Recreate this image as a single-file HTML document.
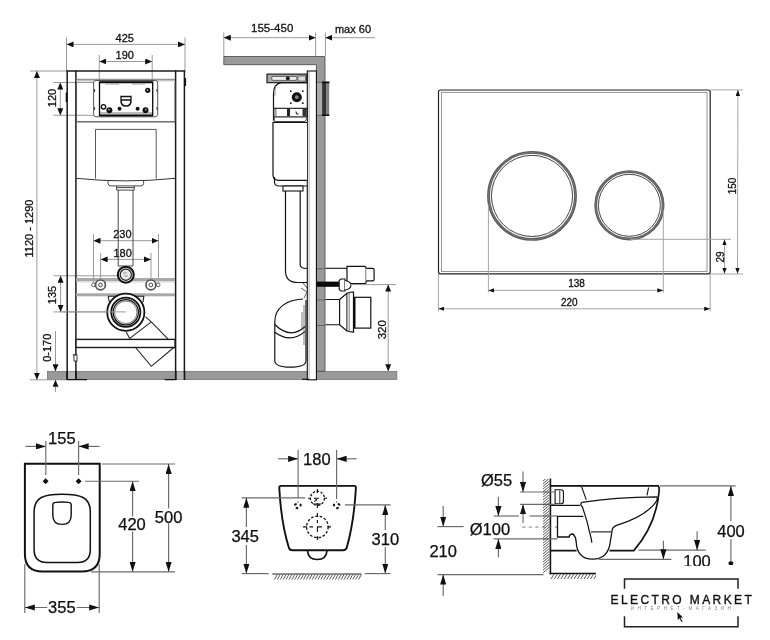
<!DOCTYPE html>
<html><head><meta charset="utf-8">
<style>
html,body{margin:0;padding:0;background:#fff;width:770px;height:640px;overflow:hidden}
svg{display:block;will-change:transform}
text{font-family:"Liberation Sans",sans-serif;fill:#111}
.d{stroke:#999;stroke-width:1;fill:none}
.dd{stroke:#6a6a6a;stroke-width:1.15;fill:none}
.k{stroke:#222;fill:none}
.t{font-size:11px;stroke:#111;stroke-width:0.3px}
.b{font-size:16.5px;stroke:#000;stroke-width:0.25px}
</style></head><body>
<svg width="770" height="640" viewBox="0 0 770 640">
<defs>
<marker id="aT" viewBox="0 0 7 6" refX="7" refY="3" markerWidth="7" markerHeight="6" orient="auto-start-reverse" markerUnits="userSpaceOnUse"><path d="M0,0 L7,3 L0,6z" fill="#111"/></marker>
<marker id="aP" viewBox="0 0 6 4.4" refX="6" refY="2.2" markerWidth="6" markerHeight="4.4" orient="auto-start-reverse" markerUnits="userSpaceOnUse"><path d="M0,0 L6,2.2 L0,4.4z" fill="#111"/></marker>
<marker id="aB" viewBox="0 0 10 6.2" refX="10" refY="3.1" markerWidth="10" markerHeight="6.2" orient="auto-start-reverse" markerUnits="userSpaceOnUse"><path d="M0,0 L10,3.1 L0,6.2z" fill="#111"/></marker>
</defs>
<g id="front">
<!-- floor band (shared) -->
<rect x="47.3" y="371.3" width="349.6" height="8.3" fill="#999" stroke="#666" stroke-width="0.6"/>
<!-- dims -->
<line class="d" x1="66.5" y1="37.5" x2="66.5" y2="70.5"/>
<line class="d" x1="185" y1="37.5" x2="185" y2="70.5"/>
<line class="d" x1="66.5" y1="44.4" x2="185" y2="44.4" marker-start="url(#aT)" marker-end="url(#aT)"/>
<text class="t" x="124.7" y="42.2" text-anchor="middle">425</text>
<line class="d" x1="99.3" y1="55" x2="99.3" y2="82"/>
<line class="d" x1="152.2" y1="55" x2="152.2" y2="82"/>
<line class="d" x1="99.3" y1="61.5" x2="152.2" y2="61.5" marker-start="url(#aT)" marker-end="url(#aT)"/>
<text class="t" x="124.7" y="59.4" text-anchor="middle">190</text>

<line class="d" x1="30" y1="71" x2="66" y2="71"/>
<line class="d" x1="30" y1="379.8" x2="66" y2="379.8"/>
<line class="d" x1="36.9" y1="71" x2="36.9" y2="379.8" marker-start="url(#aT)" marker-end="url(#aT)"/>
<text class="t" transform="translate(33.4,228.5) rotate(-90)" text-anchor="middle" style="font-size:11px">1120 - 1290</text>

<line class="d" x1="53.3" y1="82.5" x2="95" y2="82.5"/>
<line class="d" x1="53.3" y1="115.3" x2="95" y2="115.3"/>
<line class="d" x1="60.3" y1="82.5" x2="60.3" y2="115.3" marker-start="url(#aT)" marker-end="url(#aT)"/>
<text class="t" transform="translate(55.5,98) rotate(-90)" text-anchor="middle">120</text>

<line class="d" x1="53.5" y1="275.8" x2="120" y2="275.8"/>
<line class="d" x1="53.5" y1="311.9" x2="126" y2="311.9"/>
<line class="d" x1="60.6" y1="275.8" x2="60.6" y2="311.9" marker-start="url(#aT)" marker-end="url(#aT)"/>
<text class="t" transform="translate(55.6,295) rotate(-90)" text-anchor="middle">135</text>

<line class="d" x1="55.5" y1="331" x2="55.5" y2="371.3" marker-end="url(#aT)"/>
<line class="d" x1="55.5" y1="392" x2="55.5" y2="379.8" marker-end="url(#aT)"/>
<text class="t" transform="translate(50.7,347.8) rotate(-90)" text-anchor="middle">0-170</text>

<line class="d" x1="93.5" y1="234" x2="93.5" y2="283"/>
<line class="d" x1="158.5" y1="234" x2="158.5" y2="283"/>
<line class="d" x1="93.5" y1="240.7" x2="158.5" y2="240.7" marker-start="url(#aT)" marker-end="url(#aT)"/>
<text class="t" x="122.4" y="238" text-anchor="middle">230</text>
<line class="d" x1="100.6" y1="253" x2="100.6" y2="284"/>
<line class="d" x1="151" y1="253" x2="151" y2="284"/>
<line class="d" x1="100.6" y1="259.4" x2="151" y2="259.4" marker-start="url(#aT)" marker-end="url(#aT)"/>
<text class="t" x="122.6" y="257.3" text-anchor="middle">180</text>

<!-- frame verticals -->
<g stroke="#1a1a1a" stroke-width="1.5" fill="none">
<line x1="67.2" y1="70.5" x2="67.2" y2="379.8"/>
<line x1="75.9" y1="70.5" x2="75.9" y2="379.8"/>
<line x1="175.6" y1="70.5" x2="175.6" y2="379.8"/>
<line x1="184.4" y1="70.5" x2="184.4" y2="379.8"/>
<line x1="66.5" y1="71" x2="185.3" y2="71"/>
</g>
<line x1="76" y1="79.3" x2="175" y2="79.3" stroke="#777" stroke-width="1"/>
<line x1="76" y1="80.8" x2="175" y2="80.8" stroke="#aaa" stroke-width="1"/>
<path d="M66.4,92.5 V102" stroke="#111" stroke-width="1.4"/>
<path d="M185.4,78 V86" stroke="#111" stroke-width="1.4"/>
<!-- shelf -->
<path d="M76.5,82 V121.8 H175 V82" fill="none" stroke="#555" stroke-width="0.9"/>
<line x1="76" y1="121.8" x2="175" y2="121.8" stroke="#666" stroke-width="1"/>
<rect x="93.6" y="80.5" width="64.1" height="36.3" rx="2.5" fill="#fff" stroke="#555" stroke-width="1"/>
<rect x="99.5" y="82" width="53.2" height="33.5" fill="#fff" stroke="#0a0a0a" stroke-width="1.3"/>
<line x1="99.5" y1="82.3" x2="152.7" y2="82.3" stroke="#0a0a0a" stroke-width="1.8"/>
<line x1="99.5" y1="115.3" x2="152.7" y2="115.3" stroke="#0a0a0a" stroke-width="1.8"/>
<line x1="100" y1="113" x2="152" y2="113" stroke="#777" stroke-width="1"/>
<path d="M106,84 H119 M132,84 H145" stroke="#999" stroke-width="1.2"/>
<circle cx="147.7" cy="90.3" r="2.6" fill="#111"/><circle cx="147.4" cy="90" r="0.8" fill="#fff"/>
<circle cx="103.5" cy="106.8" r="2.2" fill="#fff" stroke="#111" stroke-width="1.4"/>
<circle cx="109.4" cy="110.2" r="3" fill="#111"/><circle cx="109" cy="109.6" r="0.9" fill="#aaa"/>
<circle cx="119.5" cy="108.8" r="2" fill="#111"/>
<circle cx="137.6" cy="108.8" r="2" fill="#111"/>
<circle cx="145.5" cy="110.2" r="3" fill="#111"/><circle cx="145.9" cy="109.6" r="0.9" fill="#aaa"/>
<path d="M94.6,89 V92 M94.6,107 V110 M157,89 V92 M157,107 V110" stroke="#333" stroke-width="1"/>
<path d="M121,96.5 H131 V100 H121 Z" fill="#fff" stroke="#111" stroke-width="1.3"/>
<path d="M121,100.5 Q121,106 126,106 Q131,106 131,100.5" fill="none" stroke="#111" stroke-width="1.6"/>
<!-- tank -->
<path d="M76,178.3 Q125.5,183.5 175,178.3" fill="none" stroke="#333" stroke-width="1"/>
<path d="M95.5,178.6 V129.4 H156.2 V178.6" fill="none" stroke="#444" stroke-width="0.9"/>
<path d="M108.1,180.8 V183.5 Q108.1,185.9 111,185.9 H140.6 Q143.6,185.9 143.6,183.5 V180.8" fill="none" stroke="#333" stroke-width="0.9"/>
<path d="M116.6,186 V190.1 H134.3 V186 M116.6,187.6 H134.3" fill="none" stroke="#333" stroke-width="0.9"/>
<line x1="118.2" y1="190" x2="118.2" y2="266" stroke="#333" stroke-width="0.9"/>
<line x1="133" y1="190" x2="133" y2="266" stroke="#333" stroke-width="0.9"/>
<!-- crossbars -->
<rect x="76" y="278" width="99" height="3.2" fill="#a8a8a8"/>
<rect x="76" y="293.3" width="99" height="3" fill="#a8a8a8"/>
<line x1="76" y1="282" x2="175" y2="282" stroke="#bbb" stroke-width="0.6"/>
<!-- pipe ring -->
<path d="M118.2,266 H133" stroke="#333" stroke-width="0.9"/>
<circle cx="125.8" cy="274.7" r="8" fill="#ddd" stroke="#111" stroke-width="2"/>
<circle cx="125.8" cy="274.7" r="5.6" fill="#e8e8e8" stroke="#222" stroke-width="1.2"/>
<path d="M123,273 H127 M124,276 H128" stroke="#999" stroke-width="1"/>
<!-- bolts -->
<circle cx="93.5" cy="284.9" r="1.8" fill="#fff" stroke="#555" stroke-width="0.9"/>
<circle cx="158.2" cy="284.9" r="1.8" fill="#fff" stroke="#555" stroke-width="0.9"/>
<circle cx="100.5" cy="284.9" r="4.9" fill="#fff" stroke="#555" stroke-width="1.7"/>
<circle cx="100.5" cy="284.9" r="1.9" fill="#fff" stroke="#333" stroke-width="0.9"/>
<circle cx="150.9" cy="284.9" r="4.9" fill="#fff" stroke="#555" stroke-width="1.7"/>
<circle cx="150.9" cy="284.9" r="1.9" fill="#fff" stroke="#333" stroke-width="0.9"/>
<!-- drain -->
<path d="M108.1,296.3 H143.8 L143.1,302 M108.1,296.3 L109.4,302" fill="none" stroke="#222" stroke-width="1.1"/>
<path d="M126.2,331.9 L130,339 M129.4,338.6 L151.3,321.9 L168.1,339.2 M145.6,316.9 L151.3,321.9" fill="none" stroke="#222" stroke-width="1.1"/>
<path d="M135.6,347.5 L151.3,366.3 L173.8,347.5" fill="none" stroke="#222" stroke-width="1.1"/>
<circle cx="125.8" cy="312.3" r="18.6" fill="#fff" stroke="#111" stroke-width="1.8"/>
<circle cx="125.8" cy="312.3" r="14.6" fill="none" stroke="#111" stroke-width="1.8"/>
<circle cx="125.8" cy="312.3" r="12.6" fill="none" stroke="#111" stroke-width="1.3"/>
<circle cx="125.8" cy="312.3" r="11.2" fill="none" stroke="#555" stroke-width="0.8"/>
<line class="d" x1="60.6" y1="311.9" x2="126" y2="311.9"/>
<rect x="76" y="339.4" width="99" height="8.1" fill="#fff" stroke="#1a1a1a" stroke-width="1.4"/>
<path d="M73,355 H76" stroke="#111" stroke-width="1"/>
<rect x="74" y="355" width="3" height="6" fill="#fff" stroke="#111" stroke-width="0.8"/>
<!-- feet -->
<rect x="67.5" y="371.6" width="8" height="7.8" fill="#b5b5b5"/><rect x="175.5" y="371.6" width="8.5" height="7.8" fill="#b5b5b5"/>
<path d="M67.2,371 V379.8 M75.9,371 V379.8 M175.9,371 V379.8 M184.4,371 V379.8" stroke="#111" stroke-width="1.5"/>
<path d="M66.5,379.6 H87 M164.6,379.6 H176.5" stroke="#111" stroke-width="1.3"/>
</g>
<g id="side">
<line class="d" x1="223.8" y1="32.5" x2="223.8" y2="56"/>
<line class="d" x1="315.6" y1="32.5" x2="315.6" y2="56"/>
<line class="d" x1="325.4" y1="32.5" x2="325.4" y2="56"/>
<line class="d" x1="223.8" y1="37.7" x2="315.6" y2="37.7" marker-start="url(#aT)" marker-end="url(#aT)"/>
<line class="d" x1="375" y1="37.7" x2="325.4" y2="37.7" marker-end="url(#aT)"/>
<text class="t" x="272.2" y="32.2" text-anchor="middle" style="font-size:11.5px">155-450</text>
<text class="t" x="353" y="32.5" text-anchor="middle">max 60</text>
<!-- ceiling + wall -->
<path d="M223.8,56.5 H325 V371.3 H316.4 V64.7 H223.8 Z" fill="#9a9a9a" stroke="#444" stroke-width="0.8"/>
<!-- horizontal lines through wall -->
<path d="M316.4,268.8 H325 M316.4,300 H325 M316.4,325.5 H325" stroke="#555" stroke-width="0.8"/>
<!-- flush plate -->
<rect x="316.8" y="81.7" width="5.4" height="34.1" fill="#aaa"/>
<path d="M316.8,82.2 H322.2 M316.8,115.3 H322.2" stroke="#666" stroke-width="1"/>
<rect x="322.2" y="82.4" width="3.9" height="32.8" fill="#333"/>
<rect x="326.1" y="82.4" width="3.1" height="32.8" fill="#808080"/>
<path d="M322,82.4 H329.4 M322,115.2 H329.4" stroke="#0a0a0a" stroke-width="1.6"/>
<!-- frame panel -->
<rect x="307.3" y="71" width="9.1" height="308.8" fill="#fff" stroke="#111" stroke-width="1.1"/>
<line x1="309.1" y1="71.5" x2="309.1" y2="379.5" stroke="#888" stroke-width="0.7"/>
<!-- bracket -->
<rect x="267" y="74.1" width="39.8" height="8.6" fill="#a8a8a8" stroke="#111" stroke-width="1.1"/>
<rect x="271.5" y="76.4" width="25.5" height="4" rx="2" fill="#eee" stroke="#333" stroke-width="0.7"/>
<rect x="298" y="76" width="7.5" height="5" fill="#ddd" stroke="#333" stroke-width="0.6"/>
<circle cx="287.8" cy="78.3" r="1.9" fill="#111"/>
<!-- upper tank -->
<path d="M307,82.7 H281 Q273.5,84 273.5,94 V120.5" fill="none" stroke="#111" stroke-width="1.2"/>
<path d="M275.5,86 Q275,90 275,96" fill="none" stroke="#777" stroke-width="0.7"/>
<circle cx="296.8" cy="97.2" r="5" fill="#111"/>
<circle cx="296.8" cy="97.2" r="1.9" fill="#888"/>
<g fill="#111"><circle cx="290.8" cy="91.2" r="0.9"/><circle cx="302.8" cy="91.2" r="0.9"/><circle cx="290.8" cy="103.2" r="0.9"/><circle cx="302.8" cy="103.2" r="0.9"/></g>
<rect x="273.8" y="108.3" width="33.2" height="8.6" fill="#fff" stroke="#111" stroke-width="1.1"/>
<rect x="274.4" y="109" width="2.2" height="7.2" fill="#999"/>
<rect x="287" y="109" width="3" height="7.2" fill="#222"/>
<rect x="302.5" y="109" width="4" height="7.2" fill="#333"/>
<path d="M296,111.5 L296.5,114 H298.5" stroke="#111" stroke-width="1" fill="none"/>
<path d="M274.2,116.9 V121.5 H305 L307,118" fill="none" stroke="#333" stroke-width="0.9"/>
<!-- tank -->
<path d="M307,122.5 H273 V175 Q273.2,180.3 279,180.3 H307" fill="#fff" stroke="#111" stroke-width="1.2"/>
<path d="M274.5,177 V182.5 Q275,186 279,186 H307" fill="none" stroke="#111" stroke-width="1.2"/>
<rect x="283" y="186" width="20" height="5" fill="#fff" stroke="#111" stroke-width="1.1"/>
<!-- pipe J -->
<path d="M285.5,191 V271.7 Q286,282.5 298,282.5 H307 M300.2,191 V265 Q300.5,268.5 307,268.5" fill="none" stroke="#111" stroke-width="1.2"/>
<path d="M303,283 L307,288 M301,288 L307,292 L304,298" fill="none" stroke="#333" stroke-width="0.8"/>
<!-- inlet -->
<path d="M325.4,268.3 H347" stroke="#111" stroke-width="1.1"/>
<path d="M347,266.3 H364.5 Q366.2,266.5 366.2,268.5 V281.5 Q366.2,283.6 364.5,283.6 H347 Z" fill="#fff" stroke="#111" stroke-width="1.2"/>
<path d="M366.2,268.3 H372.5 Q374.1,268.3 374.1,270 V279.2 Q374.1,280.9 372.5,280.9 H366.2" fill="#fff" stroke="#111" stroke-width="1.2"/>
<rect x="316.8" y="281.6" width="22.3" height="5.2" fill="#0a0a0a"/>
<path d="M339.2,280.5 L341,279 H345 V291 H341 L339.2,289.5 Z" fill="#fff" stroke="#111" stroke-width="1.1"/>
<path d="M345,280.5 Q350.9,281.5 350.9,285.2 Q350.9,289 345,290" fill="#fff" stroke="#111" stroke-width="1.1"/>
<line class="d" x1="350" y1="284.6" x2="396" y2="284.6"/>
<!-- drain outlet -->
<path d="M325.4,299.5 H339.6 M325.4,324.8 H339.6" stroke="#111" stroke-width="1.1"/>
<path d="M339.6,299.5 L346.9,293.3 Q350,292 353.5,292 V332.1 Q350,332.1 346.9,331 L339.6,324.8 Z" fill="#fff" stroke="#111" stroke-width="1.2"/>
<line x1="346.9" y1="293.3" x2="346.9" y2="331" stroke="#111" stroke-width="1"/>
<line x1="349.2" y1="292.5" x2="349.2" y2="331.8" stroke="#555" stroke-width="0.8"/>
<rect x="354.2" y="297.3" width="16.6" height="30.8" fill="#fff" stroke="#111" stroke-width="1.2"/>
<line x1="354.6" y1="297.3" x2="354.6" y2="328.1" stroke="#0a0a0a" stroke-width="1.8"/>
<!-- 320 dim -->
<line class="d" x1="388.2" y1="284.6" x2="388.2" y2="371.3" marker-start="url(#aT)" marker-end="url(#aT)"/>
<text class="t" transform="translate(386.2,329.7) rotate(-90)" text-anchor="middle" style="font-size:11.5px">320</text>
<!-- elbow -->
<path d="M303,299 Q284,300 277,312 Q274.8,316 274.8,322 V361 Q275.5,367.2 290,367.2 Q305.5,367.2 306,361 V300" fill="#fff" stroke="#111" stroke-width="1.2"/>
<path d="M274.8,324.5 Q290.4,340 305.1,326.5" fill="none" stroke="#111" stroke-width="1.2"/>
<path d="M274.8,332.3 Q290.4,344 305.1,331.4" fill="none" stroke="#111" stroke-width="1.2"/>
<path d="M302,312 V330 M304,305 V345" stroke="#444" stroke-width="0.7"/>
<!-- foot -->
<path d="M302,379.3 H309" stroke="#111" stroke-width="1.2"/>
</g>
<g id="plate">
<path d="M440.5,90 H708.2 Q710.2,90 710.2,92 V271.8 Q710.2,273.8 708.2,273.8 H440.5 Q438.5,273.8 438.5,271.8 V92 Q438.5,90 440.5,90 Z" fill="#fff" stroke="#222" stroke-width="1.2"/>
<path d="M441.5,271.5 V92.4 H707 V271.5 H441.5" fill="none" stroke="#777" stroke-width="0.8"/>
<circle cx="532" cy="195.9" r="43.5" fill="none" stroke="#5a5a5a" stroke-width="2.8"/>
<circle cx="532" cy="195.9" r="43.5" fill="none" stroke="#888" stroke-width="0.6"/>
<circle cx="532" cy="195.9" r="40.6" fill="none" stroke="#444" stroke-width="1"/>
<circle cx="629.4" cy="205.3" r="33.7" fill="none" stroke="#5a5a5a" stroke-width="2.8"/>
<circle cx="629.4" cy="205.3" r="33.7" fill="none" stroke="#888" stroke-width="0.6"/>
<circle cx="629.4" cy="205.3" r="31" fill="none" stroke="#444" stroke-width="1"/>
<line class="d" style="stroke:#a5a5a5" x1="488.4" y1="205" x2="488.4" y2="292.7"/>
<line class="d" style="stroke:#a5a5a5" x1="663.3" y1="210" x2="663.3" y2="292.7"/>
<line class="d" style="stroke:#a5a5a5" x1="630" y1="239.3" x2="731" y2="239.3"/>
<line class="d" style="stroke:#a5a5a5" x1="710.5" y1="89.9" x2="743" y2="89.9"/>
<line class="d" style="stroke:#a5a5a5" x1="710.5" y1="274" x2="743" y2="274"/>
<line class="d" style="stroke:#a5a5a5" x1="438.4" y1="274" x2="438.4" y2="311.4"/>
<line class="d" style="stroke:#a5a5a5" x1="710.2" y1="274" x2="710.2" y2="311.4"/>
<line class="d" style="stroke:#a5a5a5" x1="488.4" y1="290.4" x2="663.3" y2="290.4" marker-start="url(#aP)" marker-end="url(#aP)"/>
<line class="d" style="stroke:#a5a5a5" x1="438.4" y1="308.8" x2="710.2" y2="308.8" marker-start="url(#aP)" marker-end="url(#aP)"/>
<text class="t" x="576.6" y="287.2" text-anchor="middle" style="font-size:10px">138</text>
<text class="t" x="569.3" y="305.7" text-anchor="middle" style="font-size:10px">220</text>
<line class="d" style="stroke:#a5a5a5" x1="737.9" y1="89.9" x2="737.5" y2="273.8" marker-start="url(#aP)" marker-end="url(#aP)"/>
<text class="t" transform="translate(735.6,186) rotate(-90)" text-anchor="middle" style="font-size:10px">150</text>
<line class="d" style="stroke:#a5a5a5" x1="724.5" y1="239.3" x2="724.5" y2="273.8" marker-start="url(#aP)" marker-end="url(#aP)"/>
<text class="t" transform="translate(723.6,257) rotate(-90)" text-anchor="middle" style="font-size:10px">29</text>
</g>
<g id="top">
<path d="M24.9,463.8 H99.7 V554 Q99.7,571.5 82,571.5 H42.5 Q24.9,571.5 24.9,554 Z" fill="#fff" stroke="#111" stroke-width="2"/>
<path d="M34.1,549.5 V512 C34.1,497 44,494.2 62.2,494.2 C80.4,494.2 90.3,497 90.3,512 V549.5 Q90.3,562.5 77.5,562.5 H47 Q34.1,562.5 34.1,549.5 Z" fill="none" stroke="#111" stroke-width="1.5"/>
<path d="M52.8,505 Q52.8,502.6 55.5,502.4 Q62,501.7 68.5,502.4 Q71.2,502.6 71.2,505 V515 Q71.2,524.4 62,524.4 Q52.8,524.4 52.8,515 Z" fill="none" stroke="#111" stroke-width="1.4"/>
<line class="dd" x1="45.8" y1="441" x2="45.8" y2="475"/>
<line class="dd" x1="78.6" y1="441" x2="78.6" y2="475"/>
<line class="dd" x1="25.5" y1="446.4" x2="45.8" y2="446.4" marker-end="url(#aB)"/>
<line class="dd" x1="99.6" y1="446.4" x2="78.6" y2="446.4" marker-end="url(#aB)"/>
<text class="b" x="61.8" y="443.6" text-anchor="middle">155</text>
<path d="M45.6,478.2 L48.6,481.2 L45.6,484.2 L42.6,481.2Z M78.6,478.2 L81.6,481.2 L78.6,484.2 L75.6,481.2Z" fill="#111"/>
<line class="dd" x1="85" y1="481.2" x2="139" y2="481.2"/>
<line class="dd" x1="102" y1="464" x2="175" y2="464"/>
<line class="dd" x1="91" y1="571.8" x2="175" y2="571.8"/>
<line class="dd" x1="132.6" y1="571.8" x2="132.6" y2="481.2" marker-start="url(#aB)" marker-end="url(#aB)"/>
<line class="dd" x1="168.6" y1="571.8" x2="168.6" y2="464" marker-start="url(#aB)" marker-end="url(#aB)"/>
<rect x="113" y="516.5" width="39" height="15" fill="#fff"/>
<rect x="149" y="508.5" width="39" height="15" fill="#fff"/>
<text class="b" x="132" y="530" text-anchor="middle">420</text>
<text class="b" x="168.6" y="523" text-anchor="middle">500</text>
<line class="dd" x1="24.8" y1="564" x2="24.8" y2="613"/>
<line class="dd" x1="99.2" y1="564" x2="99.2" y2="613"/>
<line class="dd" x1="24.8" y1="607.5" x2="99.2" y2="607.5" marker-start="url(#aB)" marker-end="url(#aB)"/>
<rect x="47.2" y="600" width="29.4" height="14" fill="#fff"/>
<text class="b" x="61.8" y="612.8" text-anchor="middle">355</text>
</g>
<g id="bowl">
<path d="M281,485.9 H354.5 Q356,485.9 355.9,488 Q354,522 346.8,547.5 Q346,550.3 343,550.3 H292.5 Q289.5,550.3 288.8,547.5 Q281,522 279.3,488 Q279.2,485.9 281,485.9 Z" fill="#fff" stroke="#111" stroke-width="1.9"/>
<path d="M307.5,550.5 Q308,559.5 317.3,559.5 Q326.5,559.5 327,550.5" fill="none" stroke="#111" stroke-width="1.7"/>
<circle cx="317.4" cy="498.3" r="7" fill="none" stroke="#111" stroke-width="1.3" stroke-dasharray="2.4 1.6"/>
<path d="M317.4,489 V493 M317.4,503 V508 M308,498.3 H311 M324,498.3 H327 M314.5,498.3 H319" stroke="#111" stroke-width="1.1"/>
<path d="M314,498 L317,500 L314,501.5 M313,504 H321" stroke="#111" stroke-width="1" fill="none"/>
<circle cx="317.4" cy="526.9" r="10.8" fill="none" stroke="#111" stroke-width="1.3" stroke-dasharray="2.6 1.8"/>
<path d="M317.4,513 V517 M317.4,520 V523 M317.4,527 V532 M317.4,536 V540 M303,526.9 H307 M309.5,526.9 H313 M317,526.9 H322 M327.5,526.9 H331" stroke="#111" stroke-width="1.1"/>
<g fill="#111"><ellipse cx="295.5" cy="504.4" rx="1.5" ry="1.1" transform="rotate(-30 295.5 504.4)"/><ellipse cx="300.6" cy="504.9" rx="1.1" ry="1.5"/><ellipse cx="297" cy="508" rx="1.5" ry="1.1" transform="rotate(30 297 508)"/>
<ellipse cx="334" cy="504.9" rx="1.1" ry="1.5"/><ellipse cx="339" cy="504.4" rx="1.5" ry="1.1" transform="rotate(30 339 504.4)"/><ellipse cx="337.5" cy="508" rx="1.5" ry="1.1" transform="rotate(-30 337.5 508)"/></g>
<path d="M298.1,501 V503 M336.6,501 V503" stroke="#999" stroke-width="1.2"/>
<line class="dd" x1="298.1" y1="450" x2="298.1" y2="498"/>
<line class="dd" x1="336.6" y1="450" x2="336.6" y2="499"/>
<line class="dd" x1="278" y1="458.8" x2="298.1" y2="458.8" marker-end="url(#aB)"/>
<line class="dd" x1="356.6" y1="458.8" x2="336.6" y2="458.8" marker-end="url(#aB)"/>
<text class="b" x="316.8" y="464.8" text-anchor="middle">180</text>
<line class="dd" x1="241.7" y1="497.8" x2="305.2" y2="497.8"/>
<line class="dd" x1="345" y1="504.9" x2="390.6" y2="504.9"/>
<line class="dd" x1="246.4" y1="573.6" x2="246.4" y2="497.8" marker-start="url(#aB)" marker-end="url(#aB)"/>
<line class="dd" x1="385.3" y1="573.6" x2="385.3" y2="504.9" marker-start="url(#aB)" marker-end="url(#aB)"/>
<rect x="227" y="527" width="38" height="18" fill="#fff"/>
<rect x="366" y="530" width="38" height="17" fill="#fff"/>
<text class="b" x="245.2" y="541.6" text-anchor="middle">345</text>
<text class="b" x="385.3" y="544.6" text-anchor="middle">310</text>
<line class="dd" x1="241.7" y1="573.6" x2="268.7" y2="573.6"/>
<line class="dd" x1="364.8" y1="573.6" x2="390.6" y2="573.6"/>
<line x1="272.2" y1="574" x2="361.3" y2="574" stroke="#222" stroke-width="1.2"/>
</g>
<g id="sidebowl">
<line x1="550.4" y1="478.5" x2="550.4" y2="574.2" stroke="#111" stroke-width="1.6"/>
<line x1="549.6" y1="573.5" x2="596" y2="573.5" stroke="#111" stroke-width="1.6"/>
<!-- bowl outline -->
<path d="M550.4,485.9 H658 Q659.5,486.5 659,492 Q656,525 633.8,550.6 H609.5 M576.5,550.6 H550.4" fill="none" stroke="#111" stroke-width="1.7"/>
<path d="M581.6,486.7 L586.3,499.9 M648.6,487.5 L647,495.3" fill="none" stroke="#111" stroke-width="1.1"/>
<path d="M582,502.3 Q615,497 656.4,496.8 Q657.5,497 657,500" fill="none" stroke="#111" stroke-width="1.2"/>
<path d="M582,502.3 Q579.5,504 582.4,507 Q587.5,522 589,530 Q591.8,540 591.8,542.8" fill="none" stroke="#111" stroke-width="1.2"/>
<path d="M658,499 Q648,516 615.9,525.6 Q612,527.5 612,531 Q611,538 610.5,540 Q609,559.2 592.5,559.2 Q577,559 576.2,542 Q576,537 573,534 Q569.2,534 569.2,537 H557.5 V516.3 H583.2" fill="none" stroke="#111" stroke-width="1.3"/>
<line x1="591" y1="531.9" x2="611.2" y2="531.9" stroke="#111" stroke-width="1.1"/>
<line x1="550.4" y1="505.4" x2="580.1" y2="505.4" stroke="#111" stroke-width="1.2"/>
<path d="M555.1,489.8 H561 Q563.4,489.8 563.4,492 V501.5 Q563.4,503.8 561,503.8 H555.1 Z" fill="#fff" stroke="#111" stroke-width="1.1"/>
<line x1="559.8" y1="490.5" x2="559.8" y2="503" stroke="#111" stroke-width="0.9"/>
<!-- dims -->
<line class="dd" x1="520.1" y1="492" x2="555" y2="492"/>
<line class="dd" x1="520.1" y1="504.3" x2="555" y2="504.3"/>
<line class="dd" x1="523" y1="471.4" x2="523" y2="492" marker-end="url(#aB)"/>
<line class="dd" x1="523" y1="523" x2="523" y2="504.3" marker-end="url(#aB)"/>
<text class="b" x="496.6" y="485.5" text-anchor="middle">Ø55</text>
<line class="dd" x1="493.7" y1="516" x2="518.9" y2="516"/>
<line class="dd" x1="529.5" y1="516" x2="557.5" y2="516"/>
<line x1="522.4" y1="527.1" x2="557" y2="527.1" stroke="#777" stroke-width="1" stroke-dasharray="3 3.5"/>
<line class="dd" x1="493.7" y1="538.9" x2="557.5" y2="538.9"/>
<line class="dd" x1="498.4" y1="496.7" x2="498.4" y2="516" marker-end="url(#aB)"/>
<line class="dd" x1="498.4" y1="557.3" x2="498.4" y2="538.9" marker-end="url(#aB)"/>
<text class="b" x="489.9" y="535.3" text-anchor="middle">Ø100</text>
<line class="dd" x1="437.5" y1="526.6" x2="463.6" y2="526.6"/>
<line class="dd" x1="437.5" y1="574.6" x2="543.5" y2="574.6"/>
<line class="dd" x1="443.2" y1="506" x2="443.2" y2="526.6" marker-end="url(#aB)"/>
<line class="dd" x1="443.2" y1="596" x2="443.2" y2="574.6" marker-end="url(#aB)"/>
<text class="b" x="443.2" y="556.8" text-anchor="middle">210</text>
<!-- 400 -->
<line class="dd" x1="660" y1="485.9" x2="735.7" y2="485.9"/>
<line class="dd" x1="730.9" y1="564.5" x2="730.9" y2="485.9" marker-end="url(#aB)"/>
<rect x="714" y="521" width="34" height="18" fill="#fff"/>
<text class="b" x="731" y="536.6" text-anchor="middle">400</text>
<rect x="728.6" y="561.5" width="4.6" height="3.5" rx="1" fill="#111"/>
<!-- 100 -->
<line class="dd" x1="598.6" y1="559.3" x2="671.4" y2="559.3"/>
<line class="dd" x1="638.6" y1="550.1" x2="705.7" y2="550.1"/>
<line class="dd" x1="663.4" y1="540.7" x2="663.4" y2="559.3" marker-end="url(#aB)"/>
<line class="dd" x1="697.1" y1="531.3" x2="697.1" y2="550.1" marker-end="url(#aB)"/>
<svg x="670" y="550" width="60" height="15.3" overflow="hidden"><text class="b" x="27" y="16.5" text-anchor="middle">100</text></svg>
</g>
<g id="logo">
<path d="M624.5,588.7 V579 H738 V588.7 M624.5,616.3 V626.7 H738 V616.3" fill="none" stroke="#222" stroke-width="1.5"/>
<text x="682.4" y="603.7" text-anchor="middle" style="font-size:12px;letter-spacing:2.4px;stroke:#111;stroke-width:0.35px">ELECTRO MARKET</text>
<text x="682.5" y="609.6" text-anchor="middle" style="font-size:4.6px;letter-spacing:3.5px;fill:#888">ИНТЕРНЕТ-МАГАЗИН</text>
<path d="M677.3,611.9 L677.8,620 L679.5,618.3 L681.5,622 L682.5,621.5 L680.5,617.8 L683,617.5 Z" fill="#111"/>
</g>
<clipPath id="cw"><rect x="542.5" y="479" width="7.2" height="95"/><rect x="550" y="573.5" width="46" height="6"/><rect x="272" y="574" width="90" height="6"/></clipPath>
<g clip-path="url(#cw)"><g stroke="#3a3a3a" stroke-width="0.85"><line x1="543" y1="481.0" x2="549.5" y2="475.5"/><line x1="543" y1="483.7" x2="549.5" y2="478.2"/><line x1="543" y1="486.4" x2="549.5" y2="480.9"/><line x1="543" y1="489.1" x2="549.5" y2="483.6"/><line x1="543" y1="491.8" x2="549.5" y2="486.3"/><line x1="543" y1="494.5" x2="549.5" y2="489.0"/><line x1="543" y1="497.2" x2="549.5" y2="491.7"/><line x1="543" y1="499.9" x2="549.5" y2="494.4"/><line x1="543" y1="502.6" x2="549.5" y2="497.1"/><line x1="543" y1="505.3" x2="549.5" y2="499.8"/><line x1="543" y1="508.0" x2="549.5" y2="502.5"/><line x1="543" y1="510.7" x2="549.5" y2="505.2"/><line x1="543" y1="513.4" x2="549.5" y2="507.9"/><line x1="543" y1="516.1" x2="549.5" y2="510.6"/><line x1="543" y1="518.8" x2="549.5" y2="513.3"/><line x1="543" y1="521.5" x2="549.5" y2="516.0"/><line x1="543" y1="524.2" x2="549.5" y2="518.7"/><line x1="543" y1="526.9" x2="549.5" y2="521.4"/><line x1="543" y1="529.6" x2="549.5" y2="524.1"/><line x1="543" y1="532.3" x2="549.5" y2="526.8"/><line x1="543" y1="535.0" x2="549.5" y2="529.5"/><line x1="543" y1="537.7" x2="549.5" y2="532.2"/><line x1="543" y1="540.4" x2="549.5" y2="534.9"/><line x1="543" y1="543.1" x2="549.5" y2="537.6"/><line x1="543" y1="545.8" x2="549.5" y2="540.3"/><line x1="543" y1="548.5" x2="549.5" y2="543.0"/><line x1="543" y1="551.2" x2="549.5" y2="545.7"/><line x1="543" y1="553.9" x2="549.5" y2="548.4"/><line x1="543" y1="556.6" x2="549.5" y2="551.1"/><line x1="543" y1="559.3" x2="549.5" y2="553.8"/><line x1="543" y1="562.0" x2="549.5" y2="556.5"/><line x1="543" y1="564.7" x2="549.5" y2="559.2"/><line x1="543" y1="567.4" x2="549.5" y2="561.9"/><line x1="543" y1="570.1" x2="549.5" y2="564.6"/><line x1="543" y1="572.8" x2="549.5" y2="567.3"/><line x1="551.0" y1="579" x2="554.0" y2="574"/><line x1="554.3" y1="579" x2="557.3" y2="574"/><line x1="557.6" y1="579" x2="560.6" y2="574"/><line x1="560.9" y1="579" x2="563.9" y2="574"/><line x1="564.2" y1="579" x2="567.2" y2="574"/><line x1="567.5" y1="579" x2="570.5" y2="574"/><line x1="570.8" y1="579" x2="573.8" y2="574"/><line x1="574.1" y1="579" x2="577.1" y2="574"/><line x1="577.4" y1="579" x2="580.4" y2="574"/><line x1="580.7" y1="579" x2="583.7" y2="574"/><line x1="584.0" y1="579" x2="587.0" y2="574"/><line x1="587.3" y1="579" x2="590.3" y2="574"/><line x1="590.6" y1="579" x2="593.6" y2="574"/><line x1="593.9" y1="579" x2="596.9" y2="574"/><line x1="274.5" y1="579.5" x2="277.3" y2="574.5"/><line x1="277.4" y1="579.5" x2="280.2" y2="574.5"/><line x1="280.3" y1="579.5" x2="283.1" y2="574.5"/><line x1="283.2" y1="579.5" x2="286.0" y2="574.5"/><line x1="286.1" y1="579.5" x2="288.9" y2="574.5"/><line x1="289.0" y1="579.5" x2="291.8" y2="574.5"/><line x1="291.9" y1="579.5" x2="294.7" y2="574.5"/><line x1="294.8" y1="579.5" x2="297.6" y2="574.5"/><line x1="297.7" y1="579.5" x2="300.5" y2="574.5"/><line x1="300.6" y1="579.5" x2="303.4" y2="574.5"/><line x1="303.5" y1="579.5" x2="306.3" y2="574.5"/><line x1="306.4" y1="579.5" x2="309.2" y2="574.5"/><line x1="309.3" y1="579.5" x2="312.1" y2="574.5"/><line x1="312.2" y1="579.5" x2="315.0" y2="574.5"/><line x1="315.1" y1="579.5" x2="317.9" y2="574.5"/><line x1="318.0" y1="579.5" x2="320.8" y2="574.5"/><line x1="320.9" y1="579.5" x2="323.7" y2="574.5"/><line x1="323.8" y1="579.5" x2="326.6" y2="574.5"/><line x1="326.7" y1="579.5" x2="329.5" y2="574.5"/><line x1="329.6" y1="579.5" x2="332.4" y2="574.5"/><line x1="332.5" y1="579.5" x2="335.3" y2="574.5"/><line x1="335.4" y1="579.5" x2="338.2" y2="574.5"/><line x1="338.3" y1="579.5" x2="341.1" y2="574.5"/><line x1="341.2" y1="579.5" x2="344.0" y2="574.5"/><line x1="344.1" y1="579.5" x2="346.9" y2="574.5"/><line x1="347.0" y1="579.5" x2="349.8" y2="574.5"/><line x1="349.9" y1="579.5" x2="352.7" y2="574.5"/><line x1="352.8" y1="579.5" x2="355.6" y2="574.5"/><line x1="355.7" y1="579.5" x2="358.5" y2="574.5"/><line x1="358.6" y1="579.5" x2="361.4" y2="574.5"/></g>
</g>
</svg>
</body></html>
